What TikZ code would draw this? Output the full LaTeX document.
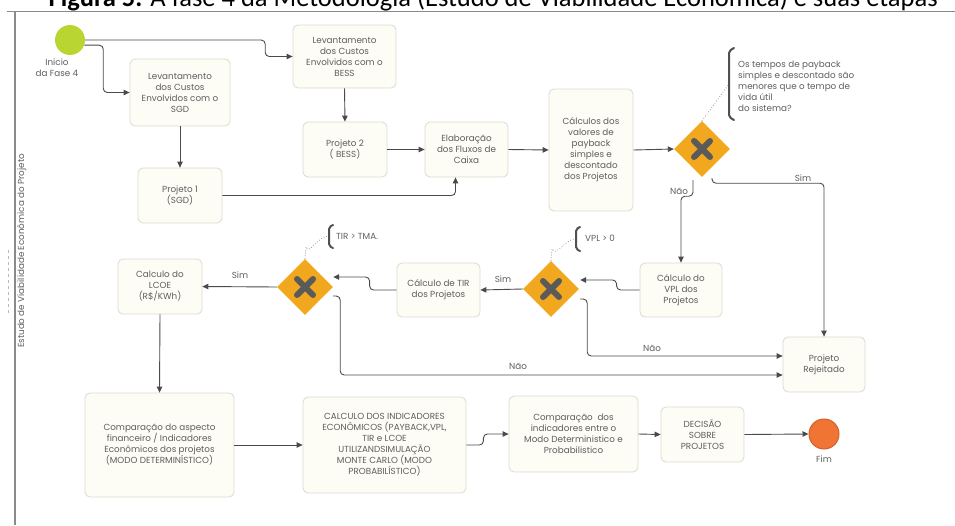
\documentclass[tikz,border=0pt]{standalone}
\usepackage{fontspec}
\setmainfont{Poppins}
\newfontfamily\titlefont{Carlito}
\usetikzlibrary{arrows.meta,shapes.geometric,calc}
\definecolor{boxfill}{HTML}{FDFCF5}
\definecolor{boxline}{HTML}{DCDBD0}
\definecolor{ln}{HTML}{4A4A4A}
\definecolor{txt}{HTML}{5E5E5E}
\definecolor{gatefill}{HTML}{F2A81E}
\definecolor{xg}{HTML}{5A5A5A}
\definecolor{startc}{HTML}{B9D532}
\definecolor{fimc}{HTML}{F07434}
\definecolor{fimb}{HTML}{D2602A}
\definecolor{frame}{HTML}{8A8A8A}
\definecolor{brkc}{HTML}{505050}
\newcommand\gatex[1]{\draw[xmark] ($(#1)+(-8,-8)$) -- ($(#1)+(8,8)$) ($(#1)+(-8,8)$) -- ($(#1)+(8,-8)$);}
\begin{document}
\begin{tikzpicture}[x=1pt,y=-1pt,
  box/.style={draw=boxline, fill=boxfill, rounded corners=5pt, align=center,
    font=\fontsize{8.8}{11}\selectfont, text=txt, inner sep=2pt, line width=0.8pt},
  conn/.style={draw=ln, line width=0.9pt, -{Triangle[length=6pt,width=5.5pt]}, rounded corners=4pt},
  gate/.style={diamond, fill=gatefill, minimum width=56pt, minimum height=56pt, inner sep=0pt},
  xmark/.style={draw=xg, line width=6pt, line cap=round},
  lbl/.style={font=\fontsize{8.8}{11}\selectfont, text=txt, inner sep=0pt},
  notetext/.style={font=\fontsize{8.8}{11}\selectfont, text=txt, align=left, inner sep=0pt, anchor=west},
  dotl/.style={draw=gray, dotted, line width=0.7pt},
  brk/.style={draw=brkc, line width=2pt, line cap=round, rounded corners=2pt}]

\useasboundingbox (0,0) rectangle (955,525);

% frame
\draw[frame, line width=1.2pt] (7,11.5) -- (955,11.5);
\draw[frame, line width=1.2pt] (15,11.5) -- (15,525);
\draw[frame!60, dashed, line width=0.6pt] (8,250) -- (8,315);
\node[rotate=90, font=\fontsize{8.8}{10}\selectfont, text=txt] (lane) at (22,251) {Estudo de Viabilidade Econômica do Projeto};

% title (cut at the top edge, as in the reference)
\node[anchor=base east, inner sep=0pt, font=\titlefont\fontsize{26.5}{28}\selectfont] (title) at (938,6)
  {\textbf{Figura 5.} A fase 4 da Metodologia (Estudo de Viabilidade Econômica) e suas etapas};

% events
\node[circle, fill=startc, minimum size=30pt, inner sep=0pt] (start) at (70,40) {};
\node[lbl, align=center] (startl) at (57,68) {Inicio\\da Fase 4};
\node[circle, fill=fimc, draw=fimb, line width=1pt, minimum size=30pt, inner sep=0pt] (fim) at (824,434) {};
\node[lbl] (fiml) at (824,459) {Fim};

% boxes
\node[box, minimum width=100pt, minimum height=67pt] (sgd) at (180,92.5) {Levantamento\\dos Custos\\Envolvidos com o\\SGD};
\node[box, minimum width=103pt, minimum height=63pt] (bess) at (344.5,56.5) {Levantamento\\dos Custos\\Envolvidos com o\\BESS};
\node[box, minimum width=84pt, minimum height=55pt] (p1) at (180,195.5) {Projeto 1\\(SGD)};
\node[box, minimum width=84pt, minimum height=55pt] (p2) at (345,149.5) {Projeto 2\\( BESS)};
\node[box, minimum width=83pt, minimum height=55pt] (flux) at (466.5,149.5) {Elaboração\\dos Fluxos de\\Caixa};
\node[box, minimum width=84pt, minimum height=122pt] (calc) at (591,150) {Cálculos dos\\valores de\\payback\\simples e\\descontado\\dos Projetos};
\node[box, minimum width=82pt, minimum height=54pt] (vpl) at (681,290) {Cálculo do\\VPL dos\\Projetos};
\node[box, minimum width=83pt, minimum height=54pt] (tir) at (438.5,290) {Cálculo de TIR\\dos Projetos};
\node[box, minimum width=84pt, minimum height=55pt] (lcoe) at (160,286.5) {Calculo do\\LCOE\\(R\$/KWh)};
\node[box, minimum width=82pt, minimum height=55pt] (rej) at (824,364.5) {Projeto\\Rejeitado};
\node[box, minimum width=149pt, minimum height=104pt] (comp) at (159.5,445) {Comparação do aspecto\\financeiro / Indicadores\\Econômicos dos projetos\\(MODO DETERMINÍSTICO)};
\node[box, minimum width=163pt, minimum height=96pt] (mc) at (384.5,445) {CALCULO DOS INDICADORES\\ECONÔMICOS (PAYBACK,VPL,\\TIR e LCOE\\UTILIZANDSIMULAÇÃO\\MONTE CARLO (MODO\\PROBABILÍSTICO)};
\node[box, minimum width=129pt, minimum height=76pt] (cmp2) at (573.5,434) {Comparação\ \ dos\\indicadores entre o\\Modo Deterministico e\\Probabilistico};
\node[box, minimum width=83pt, minimum height=55pt] (dec) at (702.5,434.5) {DECISÃO\\SOBRE\\PROJETOS};

% gateways
\node[gate] (d1) at (702,149) {};
\node[gate] (d2) at (551,289) {};
\node[gate] (d3) at (305,287) {};
\gatex{d1}
\gatex{d2}
\gatex{d3}

% annotations
\coordinate (b1) at (729,84);
\draw[brk] (734,48) -- (729,51) -- (729,117) -- (734,120);
\node[notetext] (n1) at (738,86) {Os tempos de payback\\simples e descontado são\\menores que o tempo de\\vida útil\\do sistema?};
\draw[dotl] (d1.north) -- (b1);

\coordinate (b2) at (575,239);
\draw[brk] (580,227) -- (576,229) -- (576,249) -- (580,251);
\node[notetext] (n2) at (585,238) {VPL > 0};
\draw[dotl] (d2.north) -- ++(1,-12) to[out=-70,in=180] (b2);

\coordinate (b3) at (328,236);
\draw[brk] (333,225) -- (329,227) -- (329,246) -- (333,248);
\node[notetext] (n3) at (336,236) {TIR > TMA.};
\draw[dotl] (d3.north) -- ++(1,-12) to[out=-70,in=180] (b3);

% connectors
\draw[conn] (start.east) -- ++(180,0) |- (bess.west);
\draw[conn] (start.-20) -- ++(19,0) |- (sgd.west);
\draw[conn] (sgd.south) -- (p1.north);
\draw[conn] (bess.south) -- (p2.north);
\draw[conn] (p2.east) -- (flux.west);
\draw[conn] (p1.east) -| ($(flux.south)+(-11,0)$);
\draw[conn] (flux.east) -- (calc.west);
\draw[conn] (calc.east) -- (d1.west);

\draw[conn] ($(d1.south)+(-9,3)$) -- ++(0,16) -| (vpl.north);
\node[lbl] (nao1) at (679,191) {Não};
\draw[conn] ($(d1.south)+(10,1)$) -- ++(0,5) -| (rej.north);
\node[lbl] (sim1) at (803,178) {Sim};

\draw[conn] (vpl.west) -- ++(-23,0) |- ($(d2.east)+(1,-9)$);
\draw[conn] (d2.west) -- (tir.east);
\node[lbl] (sim2) at (503,279) {Sim};
\draw[conn] ($(d2.east)+(1,10)$) -- ++(7,0) |- ($(rej.west)+(0,-8.5)$);
\node[lbl] (nao2) at (652,348) {Não};

\draw[conn] (tir.west) -- ++(-27,0) |- ($(d3.east)+(0,-10)$);
\draw[conn] (d3.west) -- (lcoe.east);
\node[lbl] (sim3) at (240,275) {Sim};
\draw[conn] ($(d3.east)+(0,9)$) -- ++(7,0) |- ($(rej.west)+(0,10.5)$);
\node[lbl] (nao3) at (518,366) {Não};

\draw[conn] (lcoe.south) -- (comp.north);
\draw[conn] (comp.east) -- (mc.west);
\draw[conn] (mc.east) -- ++(17,0) |- (cmp2.west);
\draw[conn] (cmp2.east) -- (dec.west);
\draw[conn] (dec.east) -- (fim.west);
\end{tikzpicture}
\end{document}
